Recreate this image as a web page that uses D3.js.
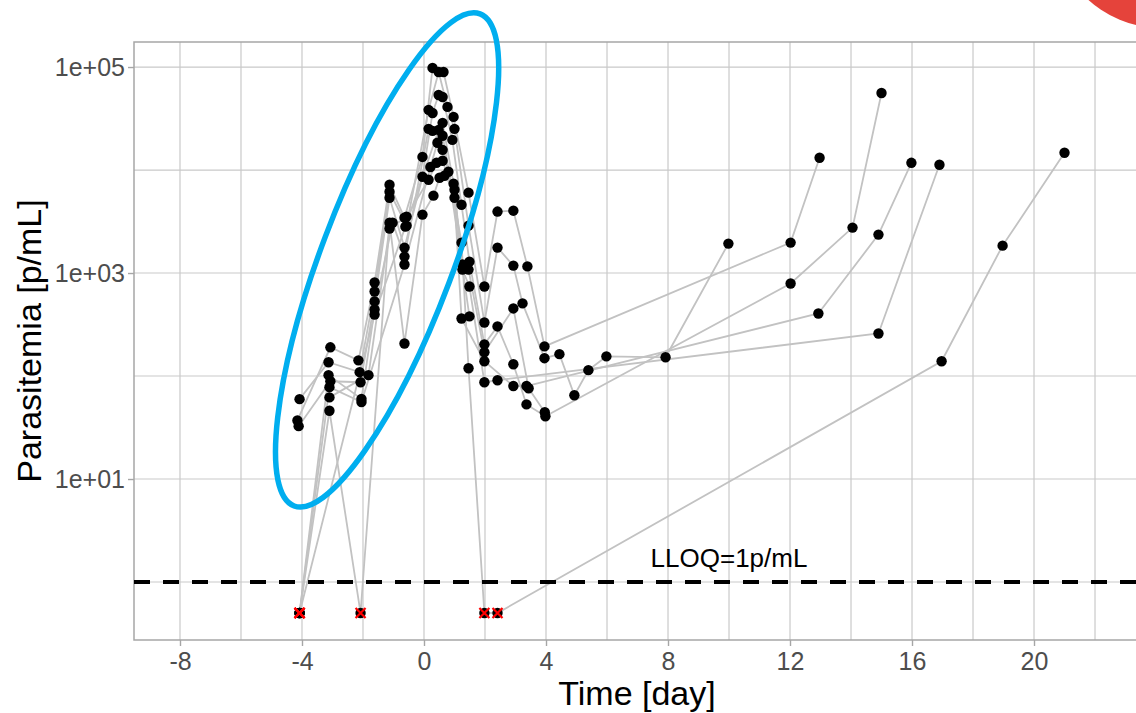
<!DOCTYPE html>
<html>
<head>
<meta charset="utf-8">
<script src="https://cdn.jsdelivr.net/npm/d3@7"></script>
<style>
  body { margin: 0; background: #fff; }
  svg { display: block; font-family: "Liberation Sans", Arial, sans-serif; }
</style>
</head>
<body>
<script>
const LLOQ = 1;
const BLQ = 0.5; // samples below LLOQ are plotted at LLOQ/2

// one time course per subject: [day, parasites per mL]
const subj1 = [[-4.15, 37], [-3.07, 190], [-2.15, 142], [-1.62, 809], [-1.13, 7190], [-0.64, 3450],
  [-0.05, 13400], [0.28, 98000], [0.64, 89500], [0.97, 32800], [1.46, 6030], [1.98, 740],
  [2.41, 3950], [2.93, 4030], [3.39, 1160], [3.95, 194], [12.02, 1975], [12.97, 13150]];
const subj2 = [[-4.08, 59.6], [-3.13, 136], [-2.11, 109], [-1.62, 662], [-1.13, 6150], [-0.57, 2885],
  [0.15, 38400], [0.48, 89500], [0.77, 41000], [1.0, 25100], [1.46, 2885], [1.98, 331],
  [2.41, 1765], [2.93, 1180], [3.23, 507], [3.95, 149], [4.44, 163], [4.93, 65], [5.39, 114],
  [5.98, 155], [7.92, 152], [9.98, 1930]];
const subj3 = [[-4.11, 32.6], [-3.07, 89], [-2.08, 87], [-1.62, 530], [-1.13, 5380], [-0.64, 1765],
  [-0.05, 8600], [0.28, 35800], [0.48, 53500], [0.61, 51200], [0.93, 19600], [1.23, 4600],
  [1.49, 1290], [1.98, 203], [2.41, 303], [2.93, 130], [3.36, 53], [3.98, 40.7], [12.02, 791],
  [14.05, 2760], [15.0, 56000]];
const subj4 = [[-4.08, BLQ], [-3.13, 102], [-2.05, 60], [-1.62, 443], [-1.03, 3080], [-0.64, 1445],
  [0.15, 25100], [0.28, 24000], [0.61, 28700], [0.97, 7360], [1.26, 1080], [1.49, 740],
  [1.98, 87], [2.41, 91], [14.9, 259], [16.9, 11240]];
const subj5 = [[-4.08, BLQ], [-3.10, 78], [-2.05, 56], [-0.64, 1210], [0.21, 10700], [0.44, 18400],
  [0.61, 21500], [1.23, 1970], [1.46, 119], [1.98, BLQ], [2.41, BLQ], [16.97, 139],
  [18.97, 1845], [21.0, 14700]];
const subj6 = [[-4.08, BLQ], [-3.10, 46], [-2.08, BLQ], [-1.13, 3080], [-0.64, 207], [-0.05, 3690],
  [0.31, 5640], [0.51, 8410], [0.67, 8800], [1.0, 6440], [1.26, 1210], [1.46, 1080], [1.98, 170],
  [2.93, 453], [3.43, 76], [3.96, 44.5]];
const subj7 = [[-3.10, 62], [-1.82, 102], [-1.13, 2700], [-0.57, 3530], [0.15, 8050], [0.41, 11750],
  [0.61, 12300], [1.0, 5380], [1.23, 362], [1.98, 139], [2.93, 80], [3.36, 80], [12.93, 405],
  [14.9, 2360], [15.98, 11750]];
const subj8 = [[-4.08, BLQ], [-1.62, 396], [-0.61, 2820], [0.48, 24500], [0.61, 15700], [0.80, 9620],
  [1.49, 379]];

const subjects = [subj1, subj2, subj3, subj4, subj5, subj6, subj7, subj8];

const xTicks = [-8, -4, 0, 4, 8, 12, 16, 20];
const xMinor = [-6, -2, 2, 6, 10, 14, 18, 22];
const yTicks = [1e1, 1e3, 1e5];
const yTickLabels = ["1e+01", "1e+03", "1e+05"];
const yMinor = [1e0, 1e2, 1e4];

const W = 1136, H = 713;
const margin = { top: 42, right: -4, bottom: 73, left: 134 };
const width = W - margin.left - margin.right,
      height = H - margin.top - margin.bottom;

const svg = d3.select("body").append("svg")
    .attr("width", W)
    .attr("height", H);

svg.append("rect").attr("width", W).attr("height", H).attr("fill", "#fff");

const g = svg.append("g")
    .attr("transform", "translate(" + margin.left + "," + margin.top + ")");

let x = d3.scaleLinear()
    .domain([-9.508, 23.475])
    .range([0, width]);

let y = d3.scaleLog()
    .domain([Math.pow(10, -0.563), Math.pow(10, 5.243)])
    .range([height, 0]);

// grid
g.selectAll(".vgrid")
    .data(xTicks.concat(xMinor))
  .enter().append("line")
    .attr("x1", d => x(d)).attr("x2", d => x(d))
    .attr("y1", 0).attr("y2", height)
    .attr("stroke", "#c9c9c9")
    .attr("stroke-width", 1.2);

g.selectAll(".hgrid")
    .data(yTicks.concat(yMinor))
  .enter().append("line")
    .attr("x1", 0).attr("x2", width)
    .attr("y1", d => y(d)).attr("y2", d => y(d))
    .attr("stroke", "#c9c9c9")
    .attr("stroke-width", 1.2);

// panel border
g.append("rect")
    .attr("width", width).attr("height", height)
    .attr("fill", "none")
    .attr("stroke", "#a6a6a6")
    .attr("stroke-width", 1.5);

// subject lines
let line = d3.line()
    .x(d => x(d[0]))
    .y(d => y(d[1]));

g.selectAll(".subj")
    .data(subjects)
  .enter().append("path")
    .attr("d", line)
    .attr("fill", "none")
    .attr("stroke", "#c2c2c2")
    .attr("stroke-width", 1.8);

// LLOQ line
g.append("line")
    .attr("x1", 0).attr("x2", width)
    .attr("y1", y(LLOQ)).attr("y2", y(LLOQ))
    .attr("stroke", "#000")
    .attr("stroke-width", 4)
    .attr("stroke-dasharray", "16,13");

g.append("text")
    .attr("x", x(10))
    .attr("y", y(1.7))
    .attr("dy", "0.35em")
    .attr("text-anchor", "middle")
    .attr("font-size", 26)
    .attr("fill", "#000")
    .text("LLOQ=1p/mL");

// points
let allPoints = subjects.flat();

g.selectAll(".pt")
    .data(allPoints)
  .enter().append("circle")
    .attr("cx", d => x(d[0]))
    .attr("cy", d => y(d[1]))
    .attr("r", 5.2)
    .attr("fill", "#000");

// red crosses over the BLQ samples
let blq = allPoints.filter(d => d[1] === BLQ);
const cross = g.selectAll(".blq")
    .data(blq)
  .enter().append("g")
    .attr("transform", d => "translate(" + x(d[0]) + "," + y(d[1]) + ")");
cross.append("path")
    .attr("d", "M-5,-5L5,5M-5,5L5,-5")
    .attr("stroke", "#ff0000")
    .attr("stroke-width", 2.2);

// axes
let yAxis = g.append("g")
    .call(d3.axisLeft(y).tickValues(yTicks)
      .tickFormat((d, i) => yTickLabels[i]).tickSizeOuter(0).tickSize(6).tickPadding(3));
let xAxis = g.append("g")
    .attr("transform", "translate(0," + height + ")")
    .call(d3.axisBottom(x).tickValues(xTicks).tickSizeOuter(0).tickSize(6).tickPadding(6)
      .tickFormat(d => d < 0 ? "-" + Math.abs(d) : d));

[yAxis, xAxis].forEach(a => {
  a.select(".domain").remove();
  a.selectAll(".tick line").attr("stroke", "#a6a6a6").attr("stroke-width", 1.4);
  a.selectAll(".tick text")
    .attr("fill", "#4d4d4d")
    .attr("font-size", 25)
    .attr("font-family", "Liberation Sans, Arial, sans-serif");
});

// axis titles
svg.append("text")
    .attr("x", margin.left + width / 2)
    .attr("y", 705)
    .attr("text-anchor", "middle")
    .attr("font-size", 34)
    .attr("fill", "#000")
    .text("Time [day]");

svg.append("text")
    .attr("transform", "translate(41," + (margin.top + height / 2) + ") rotate(-90)")
    .attr("text-anchor", "middle")
    .attr("font-size", 34)
    .attr("fill", "#000")
    .text("Parasitemia [p/mL]");

// highlight ellipse drawn over the early rise
svg.append("ellipse")
    .attr("transform", "translate(" + (margin.left + x(-1.21)) + "," + (margin.top + y(1340)) + ") rotate(20.7)")
    .attr("rx", 66)
    .attr("ry", 263)
    .attr("fill", "none")
    .attr("stroke", "#00aeef")
    .attr("stroke-width", 5.5);

// red blob in the top right corner
svg.append("circle")
    .attr("cx", 1161).attr("cy", -80)
    .attr("r", 108)
    .attr("fill", "#e5433b");
</script>
</body>
</html>
